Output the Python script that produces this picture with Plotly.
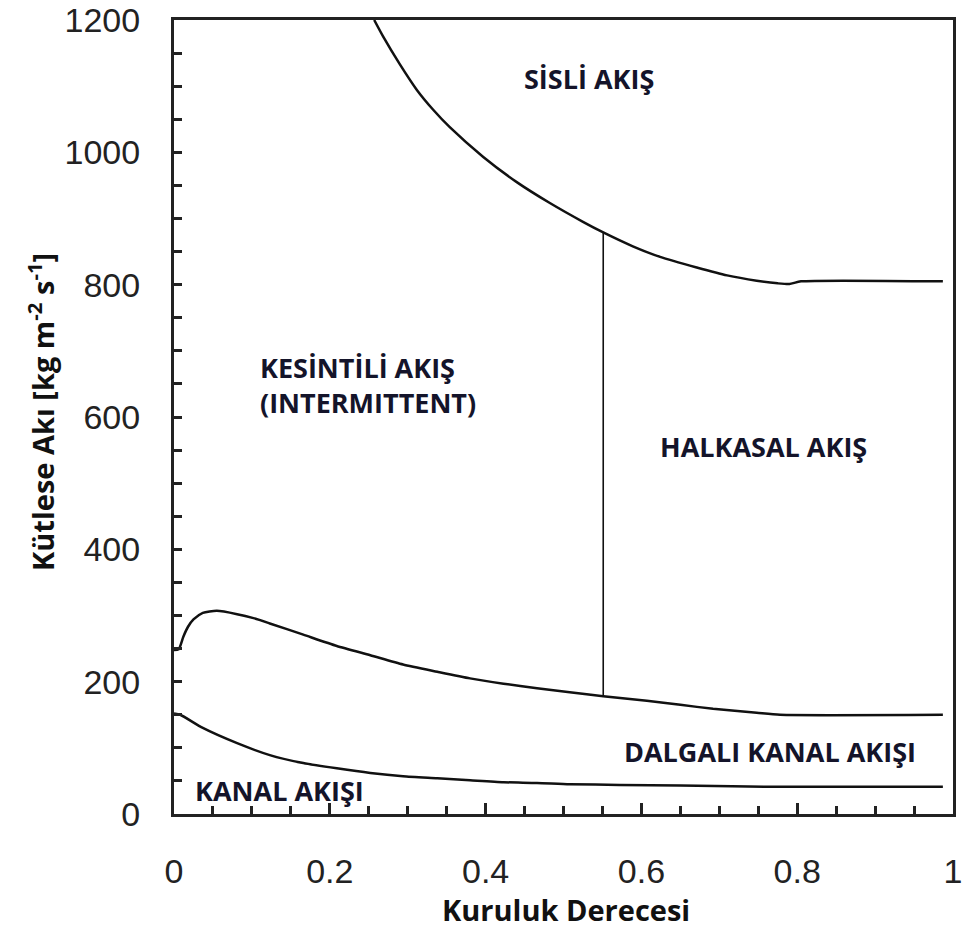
import plotly.graph_objects as go

# --- data ---
mist_x = [0.257, 0.268, 0.290, 0.312, 0.333, 0.354, 0.397, 0.440, 0.483, 0.525, 0.551,
          0.589, 0.624, 0.671, 0.710, 0.748, 0.775, 0.790, 0.805, 0.987]
mist_y = [1200, 1176, 1133, 1094, 1064, 1038, 993, 955, 923, 895, 879,
          858, 842, 826, 814, 806, 802, 801, 805, 805]

wavy_x = [0.0, 0.006, 0.012, 0.018, 0.025, 0.037, 0.055, 0.081, 0.102, 0.123, 0.166,
          0.209, 0.252, 0.294, 0.338, 0.380, 0.423, 0.466, 0.508, 0.551, 0.607,
          0.650, 0.692, 0.748, 0.778, 0.987]
wavy_y = [248, 249, 268, 283, 294, 304, 307, 302, 296, 288, 271,
          254, 240, 226, 215, 205, 197, 190, 184, 178, 171,
          165, 159, 153, 150, 150]

strat_x = [0.0, 0.008, 0.037, 0.081, 0.123, 0.166, 0.209, 0.252, 0.294, 0.338,
           0.380, 0.423, 0.466, 0.508, 0.572, 0.650, 0.778, 0.987]
strat_y = [152, 150, 130, 107, 89, 77, 69, 62, 57, 54,
           51, 48, 47, 45, 44, 43, 41, 41]

div_x = [0.551, 0.551]
div_y = [178, 879]

x_ticks = [0, 0.2, 0.4, 0.6, 0.8, 1]
x_tick_labels = ["0", "0.2", "0.4", "0.6", "0.8", "1"]
y_ticks = [0, 200, 400, 600, 800, 1000, 1200]

region_labels = ["SİSLİ AKIŞ", "KESİNTİLİ AKIŞ<br>(INTERMITTENT)", "HALKASAL AKIŞ",
                 "DALGALI KANAL AKIŞI", "KANAL AKIŞI"]
region_x = [0.533, 0.108, 0.757, 0.765, 0.024]
region_y = [1112, 648, 555, 94, 35]
region_anchor = ["center", "left", "center", "center", "left"]

fig = go.Figure()
line_col = "#111111"
for xs, ys, w, shape in [(mist_x, mist_y, 2.5, "spline"), (wavy_x, wavy_y, 2.5, "spline"),
                         (strat_x, strat_y, 2.5, "spline"), (div_x, div_y, 1.6, "linear")]:
    fig.add_trace(go.Scatter(x=xs, y=ys, mode="lines",
                             line=dict(color=line_col, width=w, shape=shape, smoothing=0.6),
                             showlegend=False, hoverinfo="skip"))

label_font = dict(family="Open Sans", size=27, color="#14142a")
for t, x, y, a in zip(region_labels, region_x, region_y, region_anchor):
    t_b = "<br>".join("<b>" + part + "</b>" for part in t.split("<br>"))
    fig.add_annotation(x=x, y=y, xref="x", yref="y", text=t_b, align="left",
                       showarrow=False, xanchor=a, yanchor="middle", font=label_font)

fig.add_annotation(x=(566 - 174) / 779, y=(814 - 909) / 794, xref="paper", yref="paper",
                   text="<b>Kuruluk Derecesi</b>", showarrow=False,
                   xanchor="center", yanchor="middle", borderpad=0,
                   font=dict(family="Open Sans", size=29, color="#111111"))
fig.add_annotation(x=(41 - 174) / 779, y=(814 - 412) / 794, xref="paper", yref="paper",
                   text="<b>Kütlese Akı [kg m<sup>-2</sup> s<sup>-1</sup>]</b>",
                   showarrow=False, textangle=-90,
                   xanchor="center", yanchor="middle",
                   font=dict(family="Open Sans", size=29, color="#111111"))

axis_common = dict(showgrid=False, zeroline=False, showline=True, mirror=True,
                   linecolor="#222222", linewidth=3, ticks="inside",
                   tickcolor="#222222", tickwidth=2.5, automargin=False,
                   tickfont=dict(family="Liberation Sans", size=34, color="#222222"))

fig.update_xaxes(range=[0, 1], tickvals=x_ticks, ticktext=x_tick_labels, ticklen=11,
                 ticklabelstandoff=25,
                 minor=dict(dtick=0.05, ticks="inside", ticklen=8, tickwidth=2.5,
                            tickcolor="#222222", showgrid=False),
                 **axis_common)
fig.update_yaxes(range=[0, 1200], tickvals=y_ticks, ticklen=8, ticklabelstandoff=24,
                 minor=dict(dtick=50, ticks="inside", ticklen=8, tickwidth=2.5,
                            tickcolor="#222222", showgrid=False),
                 **axis_common)

fig.update_layout(width=972, height=931,
                  margin=dict(l=174, r=19, t=20, b=117, autoexpand=False),
                  paper_bgcolor="white", plot_bgcolor="white")

fig.write_html("out.html")
